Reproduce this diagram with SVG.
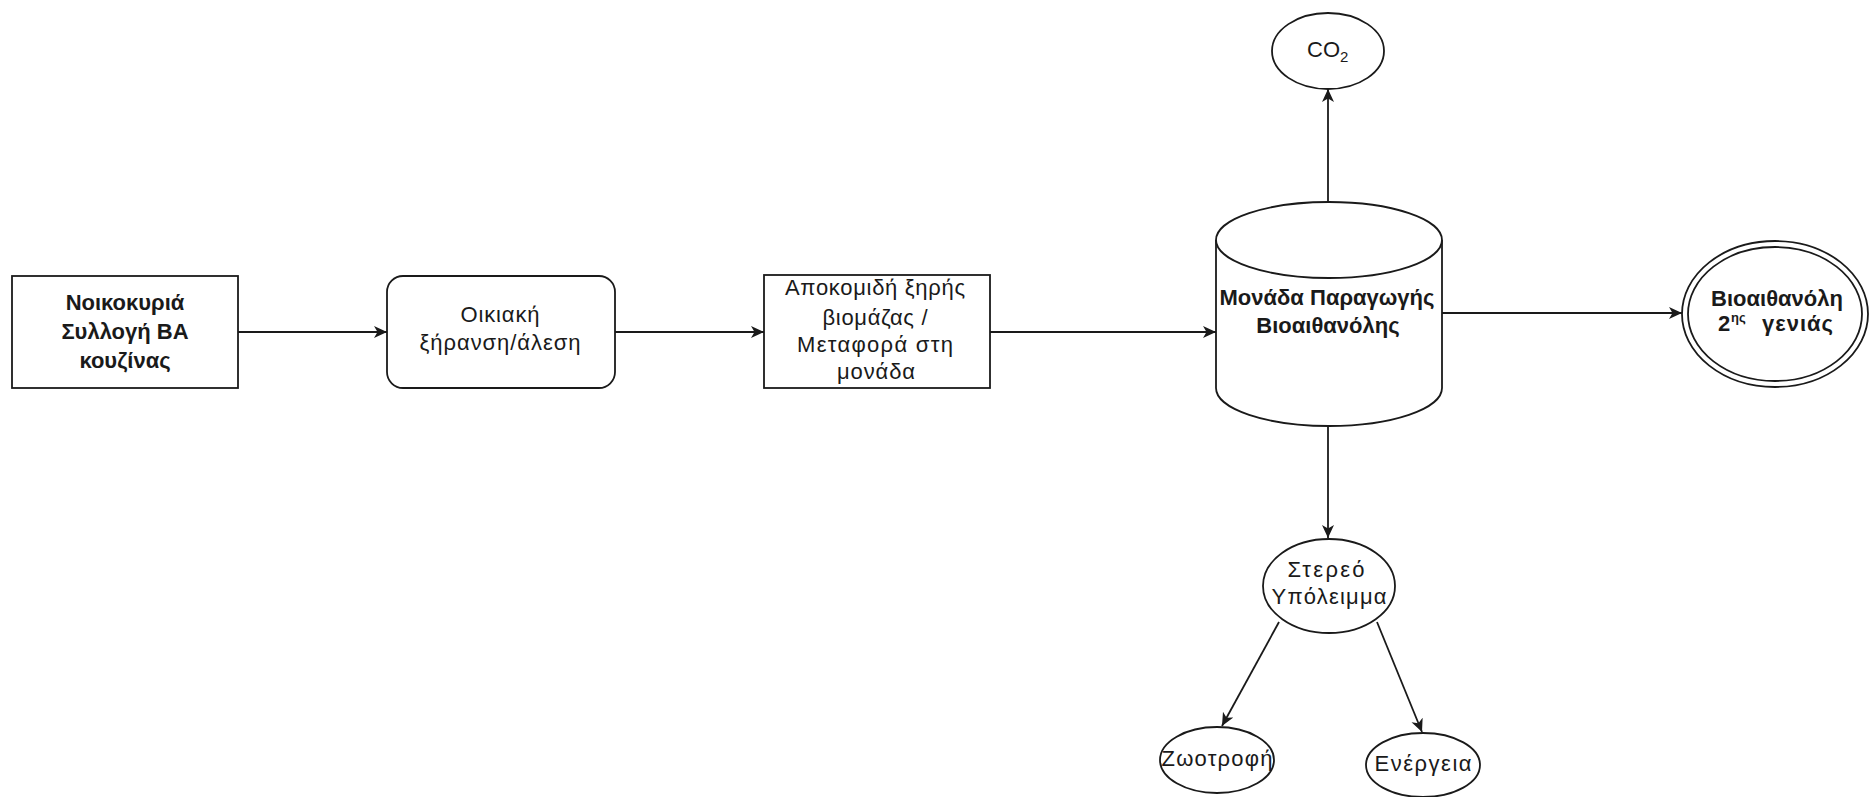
<svg xmlns="http://www.w3.org/2000/svg" width="1869" height="797" viewBox="0 0 1869 797">
<style>
.s{fill:#fff;stroke:#1a1a1a;stroke-width:1.8}
.t{font-family:"Liberation Sans",Arial,sans-serif;font-size:22px;fill:#1a1a1a;text-anchor:middle}
.b{font-weight:bold;font-size:22px}
.c{fill:none;stroke:#1a1a1a;stroke-width:1.8}
</style>
<defs>
<marker id="ar" markerUnits="userSpaceOnUse" markerWidth="16" markerHeight="14" refX="13" refY="6" orient="auto">
<path d="M0,0 L13,6 L0,12 L3.5,6 z" fill="#1a1a1a"/>
</marker>
</defs>
<rect width="1869" height="797" fill="#fff"/>
<g id="connectors">
<line class="c" x1="238" y1="332" x2="387" y2="332" marker-end="url(#ar)"/>
<line class="c" x1="615" y1="332" x2="764" y2="332" marker-end="url(#ar)"/>
<line class="c" x1="990" y1="332" x2="1216" y2="332" marker-end="url(#ar)"/>
<line class="c" x1="1442" y1="313" x2="1682" y2="313" marker-end="url(#ar)"/>
<line class="c" x1="1328" y1="202" x2="1328" y2="89" marker-end="url(#ar)"/>
<line class="c" x1="1328" y1="426" x2="1328" y2="538" marker-end="url(#ar)"/>
<line class="c" x1="1279" y1="622" x2="1222" y2="726" marker-end="url(#ar)"/>
<line class="c" x1="1377" y1="622" x2="1422" y2="732" marker-end="url(#ar)"/>
</g>
<g id="n1">
<rect class="s" x="12" y="276" width="226" height="112"/>
<text class="t b" x="125" y="310">Νοικοκυριά</text>
<text class="t b" x="125" y="339">Συλλογή ΒΑ</text>
<text class="t b" x="125" y="368">κουζίνας</text>
</g>
<g id="n2">
<rect class="s" x="387" y="276" width="228" height="112" rx="16"/>
<text class="t" x="500" y="322" textLength="79" lengthAdjust="spacing">Οικιακή</text>
<text class="t" x="500" y="350" textLength="161" lengthAdjust="spacing">ξήρανση/άλεση</text>
</g>
<g id="n3">
<rect class="s" x="764" y="275" width="226" height="113"/>
<text class="t" x="875" y="295" textLength="180" lengthAdjust="spacing">Αποκομιδή ξηρής</text>
<text class="t" x="875" y="325" textLength="105" lengthAdjust="spacing">βιομάζας /</text>
<text class="t" x="875" y="352" textLength="156" lengthAdjust="spacing">Μεταφορά στη</text>
<text class="t" x="876" y="379" textLength="78" lengthAdjust="spacing">μονάδα</text>
</g>
<g id="n4">
<path class="s" d="M1216,240 A113,38 0 0 1 1442,240 V388 A113,38 0 0 1 1216,388 Z"/>
<path class="c" d="M1216,240 A113,38 0 0 0 1442,240"/>
<text class="t b" x="1327" y="305">Μονάδα Παραγωγής</text>
<text class="t b" x="1328" y="333">Βιοαιθανόλης</text>
</g>
<g id="n5">
<ellipse class="s" cx="1775" cy="314" rx="93" ry="73"/>
<ellipse class="s" cx="1775" cy="314" rx="87" ry="67"/>
<text class="t b" x="1777" y="306">Βιοαιθανόλη</text>
<text class="t b" x="1718" y="331" style="text-anchor:start">2</text>
<text class="t b" x="1731" y="322" style="text-anchor:start;font-size:13px">ης</text>
<text class="t b" x="1762" y="331" style="text-anchor:start" textLength="71" lengthAdjust="spacing">γενιάς</text>
</g>
<g id="n6">
<ellipse class="s" cx="1328" cy="51" rx="56" ry="38"/>
<text class="t" x="1307" y="57" style="text-anchor:start">CO<tspan font-size="15" dy="5">2</tspan></text>
</g>
<g id="n7">
<ellipse class="s" cx="1329" cy="586" rx="66" ry="47"/>
<text class="t" x="1326" y="577" textLength="77" lengthAdjust="spacing">Στερεό</text>
<text class="t" x="1329" y="604" textLength="115" lengthAdjust="spacing">Υπόλειμμα</text>
</g>
<g id="n8">
<ellipse class="s" cx="1217" cy="760" rx="57" ry="33"/>
<text class="t" x="1217" y="766" textLength="111" lengthAdjust="spacing">Ζωοτροφή</text>
</g>
<g id="n9">
<ellipse class="s" cx="1423" cy="765" rx="57" ry="32"/>
<text class="t" x="1423" y="771" textLength="97" lengthAdjust="spacing">Ενέργεια</text>
</g>
</svg>
